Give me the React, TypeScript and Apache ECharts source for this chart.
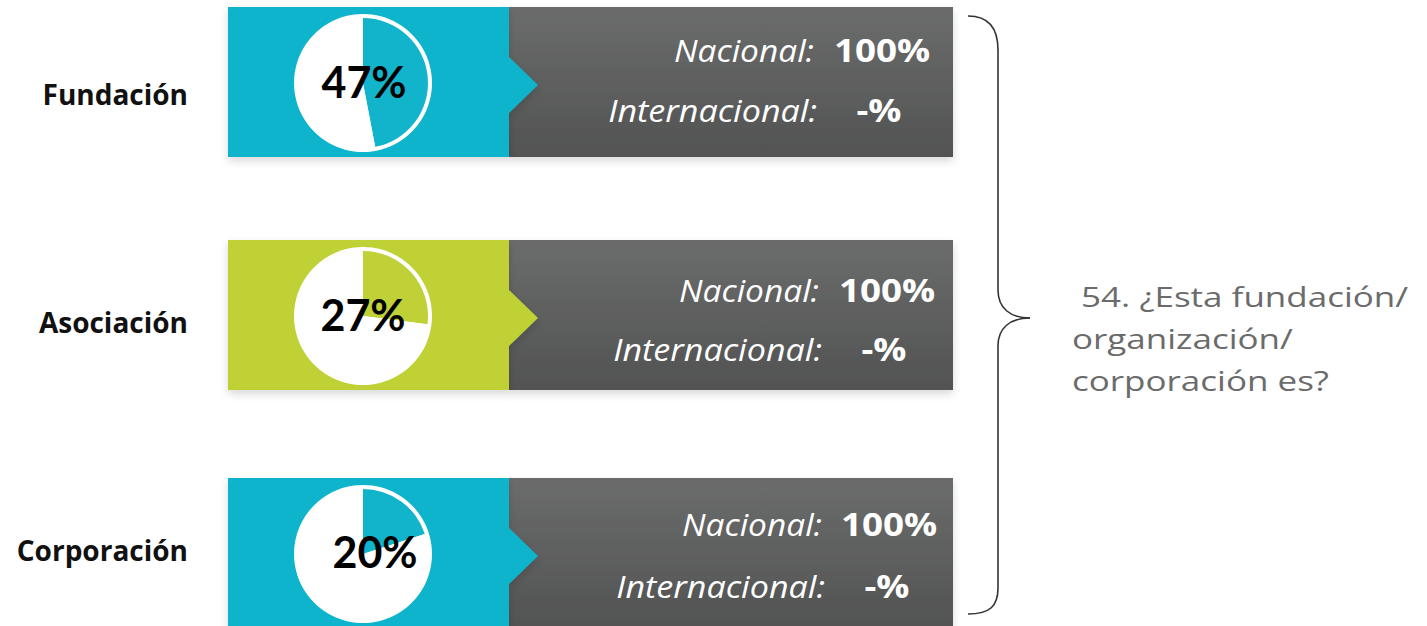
import React, { useEffect, useRef } from "react";
import * as echarts from "echarts";

const categories = ["Fundación", "Asociación", "Corporación"];
const percentages = [47, 27, 20];
const nacional = ["100%", "100%", "100%"];
const internacional = ["-%", "-%", "-%"];
const rowColors = ["#11b4cb", "#bfd136", "#11b4cb"];
const questionLines = [" 54. ¿Esta fundación/", "organización/", "corporación es?"];

// layout (pixels)
const rowTops = [7, 240, 478];
const labelYs = [94, 322, 550];
const pctTextPos = [[364, 81], [363, 314], [375, 551]];
const nacY = [50, 290, 524];
const intY = [110, 349, 586];
const nacRight = [814, 819, 822];
const numLeft = [834, 839, 841];
const dashCenter = [879, 884, 887];
const questionYs = [296, 338, 380];

const LATO = "Lato, 'Open Sans', sans-serif";
const OPEN = "'Open Sans', 'Noto Sans', sans-serif";

export default function App() {
  const ref = useRef<HTMLDivElement>(null);
  useEffect(() => {
    const chart = echarts.init(ref.current!, null, { renderer: "svg" });
    const graphics: any[] = [];
    const series: any[] = [];
    categories.forEach((cat, i) => {
      const top = rowTops[i];
      graphics.push({
        type: "rect",
        z: 1,
        shape: { x: 509, y: top, width: 444, height: 150 },
        style: {
          fill: new echarts.graphic.LinearGradient(0, 0, 0, 1, [
            { offset: 0, color: "#6b6c6c" },
            { offset: 1, color: "#525353" },
          ]),
          shadowBlur: 8,
          shadowOffsetY: 4,
          shadowColor: "rgba(0,0,0,0.15)",
        },
      });
      graphics.push({
        type: "polygon",
        z: 2,
        shape: {
          points: [
            [228, top],
            [509, top],
            [509, top + 50],
            [538, top + 78],
            [509, top + 106],
            [509, top + 150],
            [228, top + 150],
          ],
        },
        style: {
          fill: rowColors[i],
          shadowBlur: 8,
          shadowOffsetY: 4,
          shadowColor: "rgba(0,0,0,0.15)",
        },
      });
      graphics.push({
        type: "circle",
        z: 3,
        shape: { cx: 363, cy: top + 76, r: 69 },
        style: { fill: "#ffffff" },
      });
      graphics.push({
        type: "text",
        z: 5,
        x: 188,
        y: labelYs[i],
        style: {
          text: cat,
          font: `bold 28px ${OPEN}`,
          fill: "#111111",
          align: "right",
          verticalAlign: "middle",
        },
      });
      graphics.push({
        type: "text",
        z: 20,
        zlevel: 1,
        x: pctTextPos[i][0],
        y: pctTextPos[i][1],
        style: {
          text: `${percentages[i]}%`,
          font: `bold 43px ${LATO}`,
          fill: "#000000",
          align: "center",
          verticalAlign: "middle",
        },
      });
      graphics.push({
        type: "text",
        z: 5,
        x: nacRight[i],
        y: nacY[i],
        scaleX: 1.08,
        style: {
          text: "Nacional:",
          font: `italic 31px ${OPEN}`,
          fill: "#ffffff",
          align: "right",
          verticalAlign: "middle",
        },
      });
      graphics.push({
        type: "text",
        z: 5,
        x: numLeft[i],
        y: nacY[i] - 1,
        scaleX: 1.15,
        style: {
          text: nacional[i],
          font: `bold 32px ${OPEN}`,
          fill: "#ffffff",
          align: "left",
          verticalAlign: "middle",
        },
      });
      graphics.push({
        type: "text",
        z: 5,
        x: nacRight[i] + 3,
        y: intY[i],
        scaleX: 1.1,
        style: {
          text: "Internacional:",
          font: `italic 31px ${OPEN}`,
          fill: "#ffffff",
          align: "right",
          verticalAlign: "middle",
        },
      });
      graphics.push({
        type: "text",
        z: 5,
        x: dashCenter[i],
        y: intY[i] - 1,
        scaleX: 1.15,
        style: {
          text: internacional[i],
          font: `bold 32px ${OPEN}`,
          fill: "#ffffff",
          align: "center",
          verticalAlign: "middle",
        },
      });
      series.push({
        type: "pie",
        center: [363, top + 76],
        radius: [0, 65],
        startAngle: 90,
        clockwise: true,
        silent: true,
        z: 4,
        label: { show: false },
        labelLine: { show: false },
        itemStyle: { borderWidth: 0 },
        data: [
          { value: percentages[i], name: cat, itemStyle: { color: rowColors[i] } },
          { value: 100 - percentages[i], name: "resto", itemStyle: { color: "#ffffff" } },
        ],
      });
    });

    const braceStyle = { stroke: "#333333", lineWidth: 1.6, fill: "none" };
    graphics.push(
      { type: "bezierCurve", shape: { x1: 968, y1: 16, cpx1: 990, cpy1: 16, cpx2: 998, cpy2: 30, x2: 998, y2: 50 }, style: braceStyle },
      { type: "line", shape: { x1: 998, y1: 50, x2: 998, y2: 290 }, style: braceStyle },
      { type: "bezierCurve", shape: { x1: 998, y1: 290, cpx1: 998, cpy1: 308, cpx2: 1010, cpy2: 318, x2: 1030, y2: 318 }, style: braceStyle },
      { type: "bezierCurve", shape: { x1: 1030, y1: 318, cpx1: 1010, cpy1: 318, cpx2: 998, cpy2: 328, x2: 998, y2: 346 }, style: braceStyle },
      { type: "line", shape: { x1: 998, y1: 346, x2: 998, y2: 588 }, style: braceStyle },
      { type: "bezierCurve", shape: { x1: 998, y1: 588, cpx1: 998, cpy1: 606, cpx2: 990, cpy2: 614, x2: 968, y2: 614 }, style: braceStyle }
    );
    questionLines.forEach((line, k) => {
      graphics.push({
        type: "text",
        x: 1072,
        y: questionYs[k],
        scaleX: 1.25,
        style: {
          text: line,
          font: `28px ${OPEN}`,
          fill: "#6b6b6b",
          align: "left",
          verticalAlign: "middle",
        },
      });
    });

    chart.setOption({
      animation: false,
      backgroundColor: "#ffffff",
      series,
      graphic: { elements: graphics },
    });
    return () => chart.dispose();
  }, []);
  return (
    <div
      ref={ref}
      style={{ position: "fixed", left: 0, top: 0, width: 1427, height: 626 }}
    />
  );
}
